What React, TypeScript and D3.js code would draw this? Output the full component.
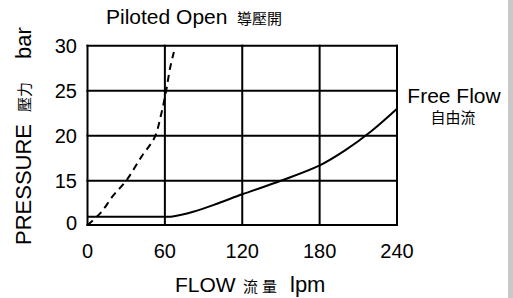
import * as React from "react";
import * as d3 from "d3";

// axis ticks
const flowTicks = [0, 60, 120, 180, 240];
const pressureTicks = [0, 15, 20, 25, 30];
const gridPressure = [15, 20, 25, 30];

// Piloted Open (dashed)
const pilotedFlow = [0, 10, 20, 30, 42, 52, 57, 61, 64, 67];
const pilotedPressure = [0, 4, 10, 15, 17.7, 19.8, 22.3, 25, 27.5, 29.3];

// Free Flow (solid)
const freeFlow = [0, 60, 66, 82, 101, 120, 150, 180, 200, 220, 240];
const freePressure = [2.8, 2.8, 2.9, 4.5, 7.3, 10.4, 15, 16.7, 18.4, 20.5, 23];

const latin = "'Liberation Sans', Arial, sans-serif";
const cjk = "'Noto Sans CJK TC', 'Noto Sans CJK SC', sans-serif";

export default function App() {
  const ref = React.useRef<SVGSVGElement>(null);

  React.useEffect(() => {
    const svg = d3.select(ref.current);
    svg.selectAll("*").remove();

    const left = 87.5;
    const right = 397;
    const top = 45.7;
    const bottom = 225;

    const x = d3.scaleLinear().domain([0, 240]).range([left, right]);
    // broken axis: 0..15 squeezed into the bottom band
    const y = d3.scaleLinear().domain([0, 15, 30]).range([bottom, 180.7, top]);

    // right gray strip
    svg.append("rect").attr("x", 508).attr("y", 0).attr("width", 5).attr("height", 298).attr("fill", "#c9c9c9");

    const grid = svg.append("g").attr("stroke", "#000").attr("stroke-width", 2).attr("stroke-linecap", "square");
    grid
      .selectAll(".vx")
      .data(flowTicks)
      .enter()
      .append("line")
      .attr("x1", (d) => x(d))
      .attr("x2", (d) => x(d))
      .attr("y1", y(0))
      .attr("y2", y(30));
    grid
      .selectAll(".hy")
      .data([0, ...gridPressure])
      .enter()
      .append("line")
      .attr("x1", x(0))
      .attr("x2", x(240))
      .attr("y1", (d) => y(d))
      .attr("y2", (d) => y(d));

    // tick labels
    svg
      .append("g")
      .selectAll("text")
      .data(flowTicks)
      .enter()
      .append("text")
      .attr("x", (d) => x(d))
      .attr("y", 258.3)
      .attr("text-anchor", "middle")
      .attr("font-family", latin)
      .attr("font-size", 20)
      .text((d) => d);

    svg
      .append("g")
      .selectAll("text")
      .data(pressureTicks)
      .enter()
      .append("text")
      .attr("x", 77)
      .attr("y", (d) => y(d))
      .attr("dy", (d) => (d === 0 ? "0.25em" : "0.35em"))
      .attr("text-anchor", "end")
      .attr("font-family", latin)
      .attr("font-size", 20)
      .text((d) => d);

    // curves
    const line = d3
      .line<number>()
      .x((d) => x(d))
      .curve(d3.curveCatmullRom.alpha(0.5));

    svg
      .append("path")
      .attr("d", line.y((_, i) => y(freePressure[i]))(freeFlow))
      .attr("fill", "none")
      .attr("stroke", "#000")
      .attr("stroke-width", 2);

    svg
      .append("path")
      .attr("d", line.y((_, i) => y(pilotedPressure[i]))(pilotedFlow))
      .attr("fill", "none")
      .attr("stroke", "#000")
      .attr("stroke-width", 2)
      .attr("stroke-dasharray", "7,5");

    // title
    const title = svg.append("text").attr("x", 106).attr("y", 24).attr("font-size", 21);
    title.append("tspan").attr("font-family", latin).text("Piloted Open");
    title.append("tspan").attr("x", 237).attr("font-family", cjk).attr("font-size", 15).text("導壓開");

    // free flow label
    svg
      .append("text")
      .attr("x", 454)
      .attr("y", 103.3)
      .attr("text-anchor", "middle")
      .attr("font-family", latin)
      .attr("font-size", 21)
      .text("Free Flow");
    svg
      .append("text")
      .attr("x", 453)
      .attr("y", 123)
      .attr("text-anchor", "middle")
      .attr("font-family", cjk)
      .attr("font-size", 15)
      .text("自由流");

    // x axis label
    const xl = svg.append("text").attr("y", 291.5).attr("font-size", 21);
    xl.append("tspan").attr("x", 175).attr("font-family", latin).text("FLOW");
    xl.append("tspan").attr("x", 243).attr("font-family", cjk).attr("font-size", 15).attr("letter-spacing", 4).text("流量");
    xl.append("tspan").attr("x", 290).attr("font-family", latin).attr("font-size", 22).text("lpm");

    // y axis label (rotated)
    const yl = svg.append("g").attr("transform", "translate(30.5,0) rotate(-90)");
    yl.append("text").attr("x", -245).attr("y", 0).attr("font-family", latin).attr("font-size", 22).text("PRESSURE");
    yl.append("text").attr("x", -112).attr("y", -1).attr("font-family", cjk).attr("font-size", 15).text("壓力");
    yl.append("text").attr("x", -59).attr("y", 0).attr("font-family", latin).attr("font-size", 22).text("bar");
  }, []);

  return (
    <svg
      ref={ref}
      width={513}
      height={298}
      style={{ position: "absolute", left: 0, top: 0, background: "#fff" }}
    />
  );
}
